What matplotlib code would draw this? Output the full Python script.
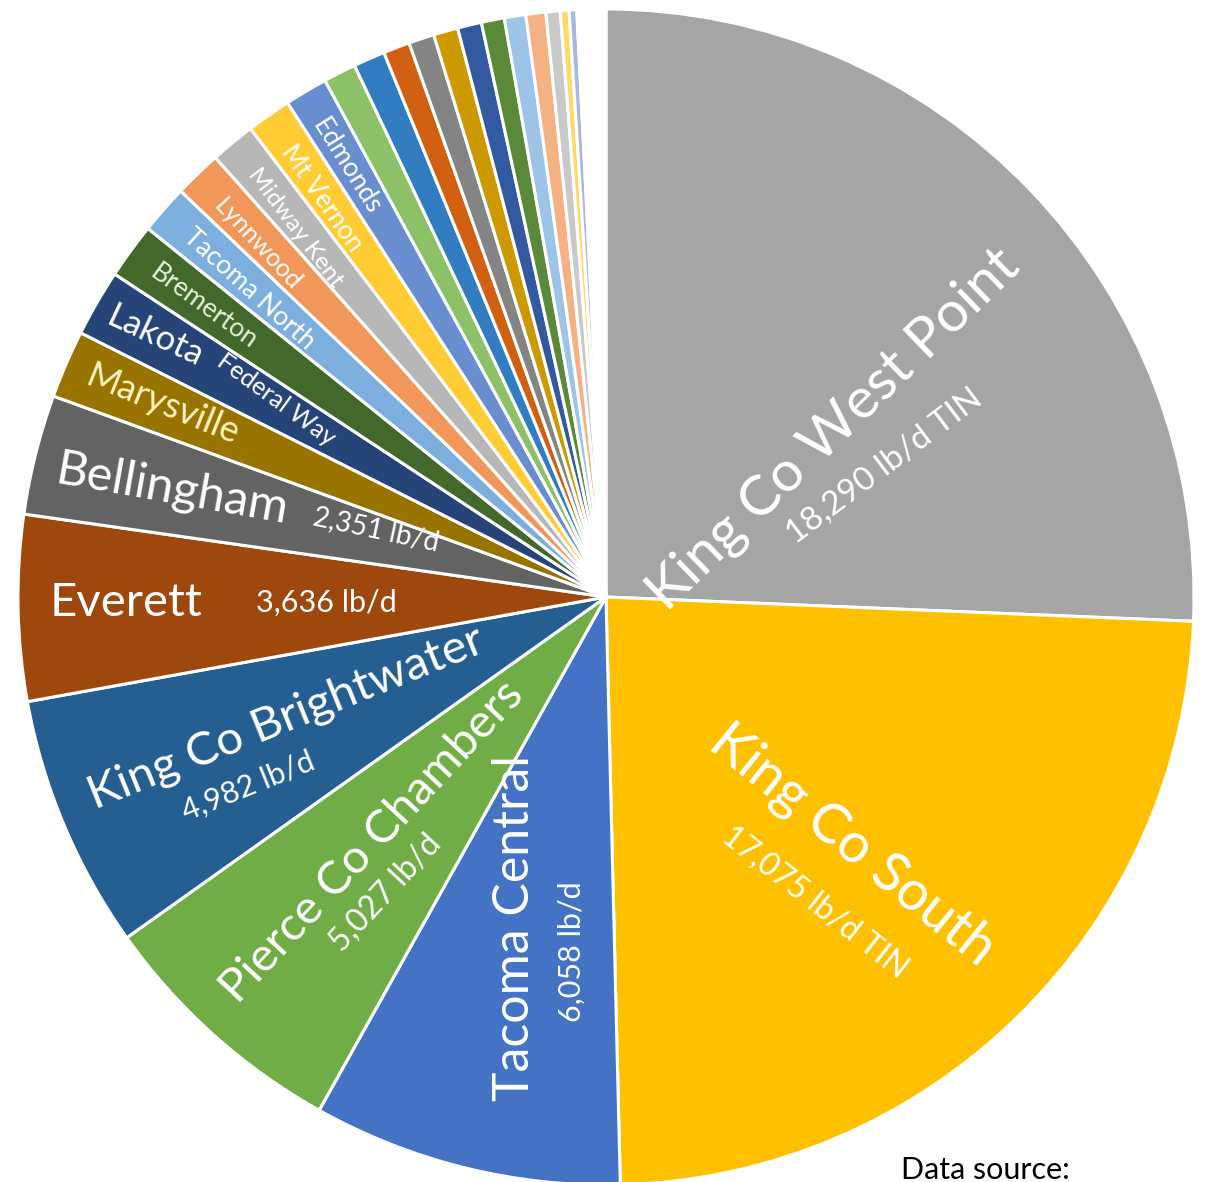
import numpy as np
import matplotlib.pyplot as plt

# TIN loads by treatment plant (lb/d), largest first, clockwise from 12 o'clock
plants = ["King Co West Point", "King Co South", "Tacoma Central", "Pierce Co Chambers",
          "King Co Brightwater", "Everett", "Bellingham", "Marysville", "Lakota Federal Way",
          "Bremerton", "Tacoma North", "Lynnwood", "Midway Kent", "Mt Vernon", "Edmonds",
          "p16", "p17", "p18", "p19", "p20", "p21", "p22", "p23", "p24", "p25", "p26", "p27",
          "others"]
loads = [18290, 17075, 6058, 5027, 4982, 3636, 2351, 1330, 1310, 1090, 960, 930, 880, 870,
         840, 640, 620, 520, 500, 480, 470, 450, 420, 390, 280, 170, 150, 564]
colors = ["#A5A5A5", "#FFC000", "#4472C4", "#70AD47", "#255E91", "#9E480E", "#636363",
          "#997300", "#264478", "#43682B", "#7CAFDD", "#F1975A", "#B7B7B7", "#FFCD33",
          "#698ED0", "#8CC168", "#327DC2", "#D26012", "#848484", "#CC9A00", "#335AA1",
          "#5A8A39", "#9DC3E6", "#F4B183", "#C9C9C9", "#FFD966", "#A9B8E0", "#FFFFFF"]

W, H = 1210, 1182
fig = plt.figure(figsize=(W / 100, H / 100), dpi=100)
ax = fig.add_axes([0, 0, 1, 1])

cx, cy, R = 606, 597, 588
ax.pie(loads, colors=colors, startangle=90, counterclock=False, center=(cx, H - cy), radius=R,
       wedgeprops=dict(edgecolor="white", linewidth=2.2), frame=True)
ax.set_xlim(0, W)
ax.set_ylim(0, H)
ax.set_aspect("equal")
ax.axis("off")

font = "Lato"


def lab(x, y, s, size, rot, color="white"):
    # x, y given in pixels from the top-left corner
    ax.text(x, H - y, s, fontsize=size, rotation=rot, color=color, ha="center", va="center",
            rotation_mode="anchor", family=font)


lab(834, 430, "King Co West Point", 41, 44)
lab(884, 466, "18,290 lb/d TIN", 24, 37)
lab(852, 845, "King Co South", 40, -39)
lab(815, 902, "17,075 lb/d TIN", 23, -38)
lab(515, 928, "Tacoma Central", 36, 90)
lab(572, 952, "6,058 lb/d", 22, 90)
lab(372, 842, "Pierce Co Chambers", 34, 47)
lab(386, 893, "5,027 lb/d", 23, 47)
lab(286, 718, "King Co Brightwater", 34, 22)
lab(248, 786, "4,982 lb/d", 22, 22)
lab(126, 603, "Everett", 34, 0)
lab(326, 603, "3,636 lb/d", 22, 0)
lab(172, 490, "Bellingham", 35, -10)
lab(376, 530, "2,351 lb/d", 20, -12)
lab(163, 405, "Marysville", 26, -22, "#FFF2C0")
lab(155, 337, "Lakota", 25, -25)
lab(276, 400, "Federal Way", 18, -36)
lab(204, 307, "Bremerton", 19, -36, "#E2F0D9")
lab(249, 289, "Tacoma North", 19, -42)
lab(258, 244, "Lynnwood", 18, -47)
lab(295, 228, "Midway Kent", 17.5, -53)
lab(322, 198, "Mt Vernon", 18.5, -55)
lab(346, 167, "Edmonds", 19, -58)

ax.text(985, H - 1156, "Data source:", fontsize=22, color="black", ha="center", va="top",
        family=font)

fig.savefig("out.png", dpi=100)
